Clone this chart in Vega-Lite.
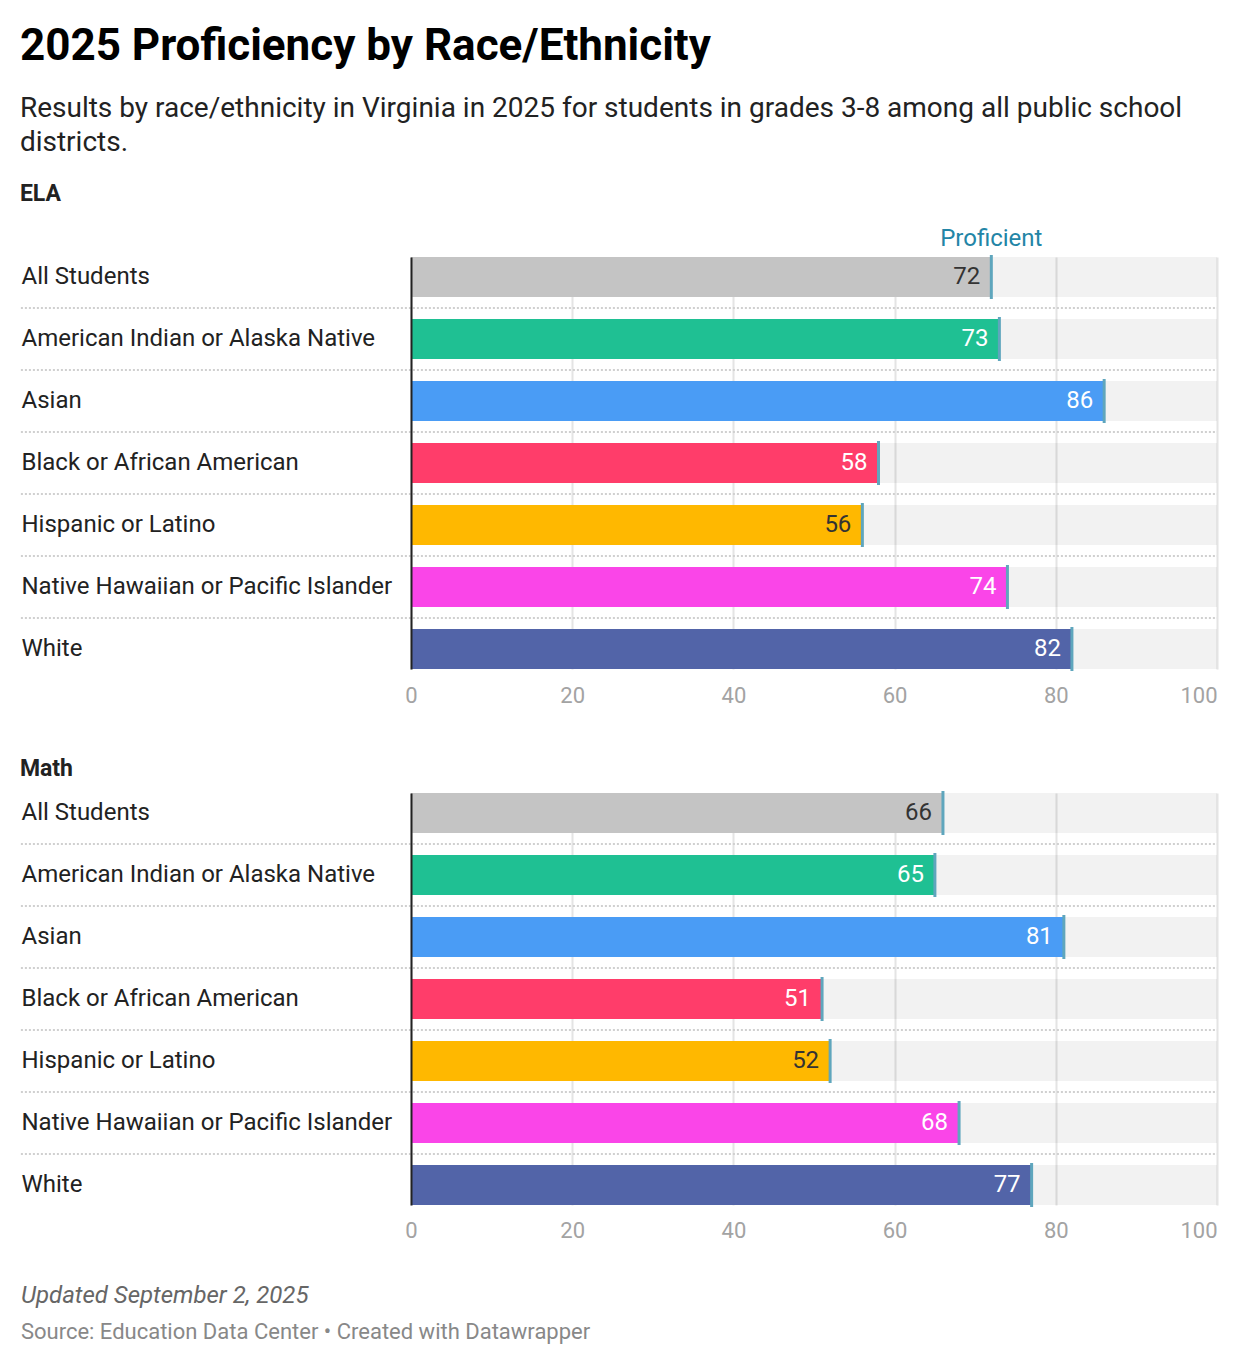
{
  "$schema": "https://vega.github.io/schema/vega-lite/v6.json",
  "padding": {"left": 19, "top": 25, "right": 22, "bottom": 10},
  "background": "#ffffff",
  "config": {
    "font": "Roboto",
    "view": {"stroke": null},
    "title": {"font": "Roboto", "subtitleFont": "Roboto"}
  },
  "title": {
    "text": "2025 Proficiency by Race/Ethnicity",
    "subtitle": ["Results by race/ethnicity in Virginia in 2025 for students in grades 3-8 among all public school", "districts."],
    "anchor": "start",
    "frame": "bounds",
    "fontSize": 44,
    "fontWeight": "bold",
    "color": "#000000",
    "subtitleFontSize": 28,
    "subtitleColor": "#222222",
    "subtitleLineHeight": 34,
    "subtitlePadding": 26,
    "offset": 26
  },
  "datasets": {
    "ela": [
      {"group": "All Students", "value": 72},
      {"group": "American Indian or Alaska Native", "value": 73},
      {"group": "Asian", "value": 86},
      {"group": "Black or African American", "value": 58},
      {"group": "Hispanic or Latino", "value": 56},
      {"group": "Native Hawaiian or Pacific Islander", "value": 74},
      {"group": "White", "value": 82}
    ],
    "math": [
      {"group": "All Students", "value": 66},
      {"group": "American Indian or Alaska Native", "value": 65},
      {"group": "Asian", "value": 81},
      {"group": "Black or African American", "value": 51},
      {"group": "Hispanic or Latino", "value": 52},
      {"group": "Native Hawaiian or Pacific Islander", "value": 68},
      {"group": "White", "value": 77}
    ],
    "footer": [
      {"line": "Updated September 2, 2025"},
      {"line": "Source: Education Data Center • Created with Datawrapper"}
    ]
  },
  "vconcat": [
    {
      "spacing": 52,
      "vconcat": [
        {
          "title": {"text": "ELA", "anchor": "start", "frame": "bounds", "fontSize": 23, "fontWeight": "bold", "color": "#222222", "offset": 21},
          "width": 806,
          "height": 412,
          "data": {"name": "ela"},
          "encoding": {
            "y": {
              "field": "group", "type": "nominal", "sort": null,
              "scale": {"paddingInner": 0.3548, "paddingOuter": 0},
              "axis": {"title": null, "domain": true, "domainColor": "#222222", "domainWidth": 2, "ticks": false, "grid": false, "labelAlign": "left", "labelPadding": 390, "labelFontSize": 24, "labelColor": "#222222", "labelLimit": 400, "zindex": 1}
            }
          },
          "layer": [
            {
              "mark": {"type": "bar", "fill": "#000000", "opacity": 0.05},
              "encoding": {
                "x": {
                  "datum": 100, "type": "quantitative",
                  "scale": {"domain": [0, 100], "nice": false},
                  "axis": {"title": null, "grid": true, "gridColor": "#e4e4e4", "gridWidth": 2, "domain": false, "ticks": false, "values": [0, 20, 40, 60, 80, 100], "labelFontSize": 22, "labelColor": "#a3a3a3", "labelPadding": 16, "labelAlign": {"condition": {"test": "datum.value === 100", "value": "right"}, "value": "center"}, "zindex": 0}
                }
              }
            },
            {
              "transform": [{"filter": "datum.group !== 'All Students'"}],
              "mark": {"type": "rule", "strokeDash": [2, 2], "color": "#d0d0d0", "strokeWidth": 2, "yOffset": -11},
              "encoding": {
                "y": {"field": "group", "type": "nominal", "sort": null, "bandPosition": 0},
                "x": {"datum": -48.4, "type": "quantitative"},
                "x2": {"datum": 100}
              }
            },
            {
              "mark": {"type": "bar"},
              "encoding": {
                "x": {"field": "value", "type": "quantitative"},
                "color": {
                  "field": "group", "type": "nominal", "legend": null,
                  "scale": {
                    "domain": ["All Students", "American Indian or Alaska Native", "Asian", "Black or African American", "Hispanic or Latino", "Native Hawaiian or Pacific Islander", "White"],
                    "range": ["#c4c4c4", "#1fc093", "#4a9cf5", "#ff3d6a", "#ffb800", "#fa45e8", "#5264a8"]
                  }
                }
              }
            },
            {
              "mark": {"type": "tick", "thickness": 3, "size": 44, "color": "#5fa6bd", "opacity": 1},
              "encoding": {"x": {"field": "value", "type": "quantitative"}}
            },
            {
              "mark": {"type": "text", "align": "right", "baseline": "middle", "dx": -11, "fontSize": 24},
              "encoding": {
                "x": {"field": "value", "type": "quantitative"},
                "text": {"field": "value"},
                "color": {"condition": {"test": "datum.group === 'All Students' || datum.group === 'Hispanic or Latino'", "value": "#333333"}, "value": "#ffffff"}
              }
            },
            {
              "transform": [{"filter": "datum.group === 'All Students'"}],
              "mark": {"type": "text", "align": "center", "baseline": "alphabetic", "dy": -31, "fontSize": 24, "color": "#2385a6"},
              "encoding": {
                "x": {"field": "value", "type": "quantitative"},
                "text": {"value": "Proficient"}
              }
            }
          ]
        },
        {
          "title": {"text": "Math", "anchor": "start", "frame": "bounds", "fontSize": 23, "fontWeight": "bold", "color": "#222222", "offset": 10},
          "width": 806,
          "height": 412,
          "data": {"name": "math"},
          "encoding": {
            "y": {
              "field": "group", "type": "nominal", "sort": null,
              "scale": {"paddingInner": 0.3548, "paddingOuter": 0},
              "axis": {"title": null, "domain": true, "domainColor": "#222222", "domainWidth": 2, "ticks": false, "grid": false, "labelAlign": "left", "labelPadding": 390, "labelFontSize": 24, "labelColor": "#222222", "labelLimit": 400, "zindex": 1}
            }
          },
          "layer": [
            {
              "mark": {"type": "bar", "fill": "#000000", "opacity": 0.05},
              "encoding": {
                "x": {
                  "datum": 100, "type": "quantitative",
                  "scale": {"domain": [0, 100], "nice": false},
                  "axis": {"title": null, "grid": true, "gridColor": "#e4e4e4", "gridWidth": 2, "domain": false, "ticks": false, "values": [0, 20, 40, 60, 80, 100], "labelFontSize": 22, "labelColor": "#a3a3a3", "labelPadding": 15, "labelAlign": {"condition": {"test": "datum.value === 100", "value": "right"}, "value": "center"}, "zindex": 0}
                }
              }
            },
            {
              "transform": [{"filter": "datum.group !== 'All Students'"}],
              "mark": {"type": "rule", "strokeDash": [2, 2], "color": "#d0d0d0", "strokeWidth": 2, "yOffset": -11},
              "encoding": {
                "y": {"field": "group", "type": "nominal", "sort": null, "bandPosition": 0},
                "x": {"datum": -48.4, "type": "quantitative"},
                "x2": {"datum": 100}
              }
            },
            {
              "mark": {"type": "bar"},
              "encoding": {
                "x": {"field": "value", "type": "quantitative"},
                "color": {
                  "field": "group", "type": "nominal", "legend": null,
                  "scale": {
                    "domain": ["All Students", "American Indian or Alaska Native", "Asian", "Black or African American", "Hispanic or Latino", "Native Hawaiian or Pacific Islander", "White"],
                    "range": ["#c4c4c4", "#1fc093", "#4a9cf5", "#ff3d6a", "#ffb800", "#fa45e8", "#5264a8"]
                  }
                }
              }
            },
            {
              "mark": {"type": "tick", "thickness": 3, "size": 44, "color": "#5fa6bd", "opacity": 1},
              "encoding": {"x": {"field": "value", "type": "quantitative"}}
            },
            {
              "mark": {"type": "text", "align": "right", "baseline": "middle", "dx": -11, "fontSize": 24},
              "encoding": {
                "x": {"field": "value", "type": "quantitative"},
                "text": {"field": "value"},
                "color": {"condition": {"test": "datum.group === 'All Students' || datum.group === 'Hispanic or Latino'", "value": "#333333"}, "value": "#ffffff"}
              }
            }
          ]
        }
      ]
    },
    {
      "width": 806,
      "height": 72,
      "data": {"name": "footer"},
      "encoding": {
        "y": {"field": "line", "type": "nominal", "sort": null, "axis": null},
        "x": {"datum": -48.4, "type": "quantitative", "scale": {"domain": [0, 100], "nice": false}, "axis": null},
        "text": {"field": "line"}
      },
      "layer": [
        {
          "transform": [{"filter": "datum.line === 'Updated September 2, 2025'"}],
          "mark": {"type": "text", "align": "left", "baseline": "middle", "fontSize": 24, "fontStyle": "italic", "color": "#666666"}
        },
        {
          "transform": [{"filter": "datum.line !== 'Updated September 2, 2025'"}],
          "mark": {"type": "text", "align": "left", "baseline": "middle", "fontSize": 22, "color": "#888888"}
        }
      ]
    }
  ],
  "spacing": 37
}
